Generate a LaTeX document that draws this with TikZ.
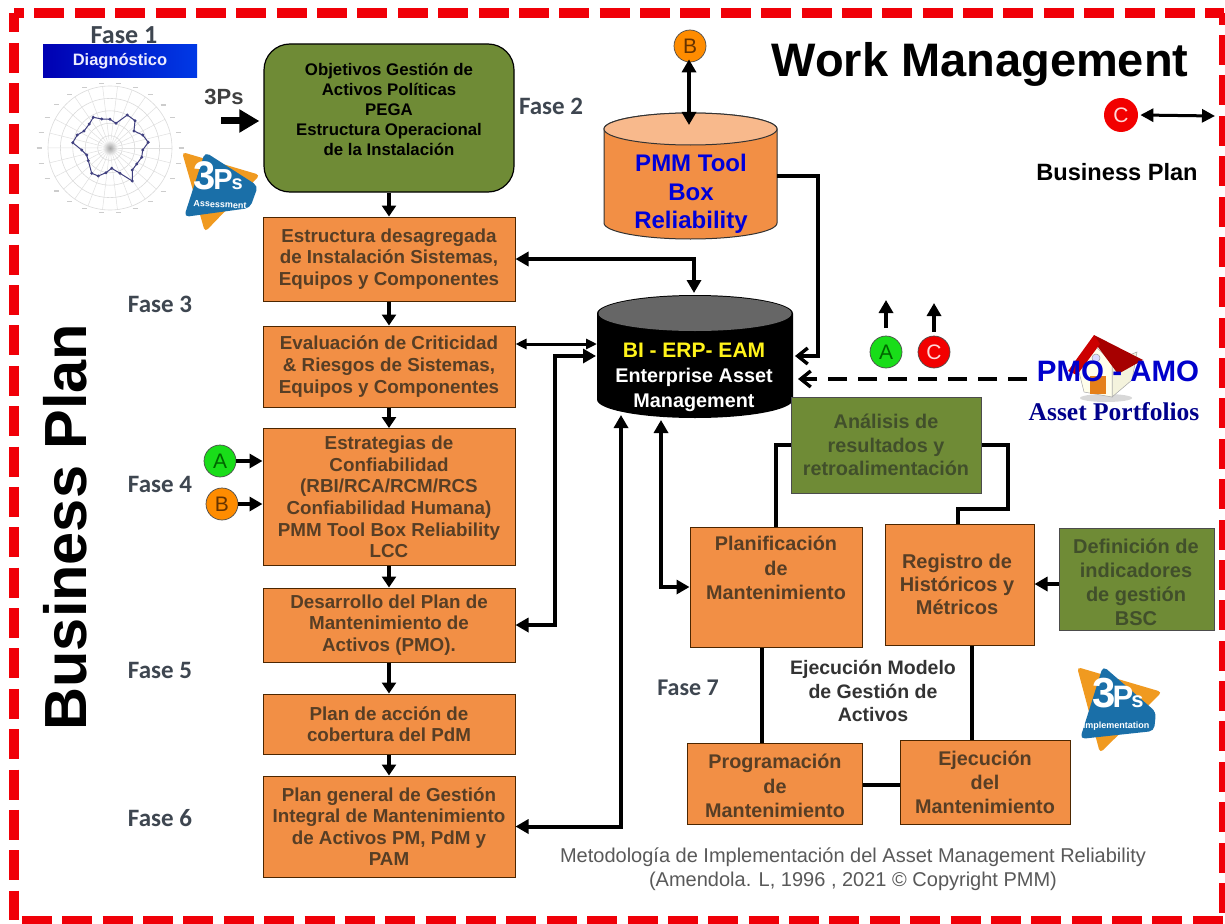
\documentclass[tikz,border=0pt]{standalone}
\usepackage{fontspec}
\setmainfont{Liberation Sans}
\newfontfamily\serifb{Liberation Serif}
\newfontfamily\calib{Carlito}
\usetikzlibrary{arrows.meta,calc,shadings}
\definecolor{orangebox}{HTML}{F28F45}
\definecolor{orangetop}{HTML}{F8B98C}
\definecolor{greenbox}{HTML}{6F8B36}
\definecolor{txtbrown}{HTML}{573E25}
\definecolor{txtgreen}{HTML}{414F2B}
\definecolor{redb}{HTML}{F00008}
\definecolor{slate}{HTML}{3E4650}
\definecolor{logoblue}{HTML}{1A6FA8}
\definecolor{logoorange}{HTML}{F09A20}
\tikzset{
 x=1pt,y=-1pt,
 obox/.style={draw=black!70!orange,line width=1pt,fill=orangebox,text=txtbrown,align=center,inner sep=0pt,font=\fontsize{18.8}{21.6}\selectfont\bfseries},
 otext/.style={text=txtbrown,align=center,inner sep=0pt,font=\fontsize{19.8}{24.2}\selectfont\bfseries},
 gbox/.style={draw=black!70,line width=1pt,fill=greenbox,text=txtgreen,align=center,inner sep=0pt,font=\fontsize{19.8}{24}\selectfont\bfseries},
 fase/.style={text=slate,inner sep=0pt,font=\fontsize{25}{27}\calib\bfseries},
 lab/.style={circle,draw=black!70,line width=.7pt,minimum size=32pt,inner sep=0pt,font=\fontsize{21}{22}\selectfont},
 redframe/.style={redb,line width=10pt},
 arr/.style={line width=4pt,-{Triangle[length=13pt,width=14pt]}},
 arrb/.style={line width=4pt,{Triangle[length=13pt,width=14pt]}-{Triangle[length=13pt,width=14pt]}},
 arrs/.style={line width=3pt,{Triangle[length=11pt,width=10pt]}-{Triangle[length=11pt,width=10pt]}},
 arrbarb/.style={line width=3.6pt,-{Straight Barb[length=10pt,width=16pt,line width=3.4pt]}},
 wire/.style={line width=4.5pt},
}
\begin{document}
\begin{tikzpicture}
\useasboundingbox (0,0) rectangle (1225,923);
\fill[white] (0,0) rectangle (1225,923);
% dashed frame
\draw[redframe,dash pattern=on 30pt off 10.375pt,dash phase=20pt] (14,13) -- (1224,13);
\draw[redframe,dash pattern=on 30pt off 10.375pt,dash phase=10.6pt] (14.3,13) -- (14.3,920);
\draw[redframe,dash pattern=on 30pt off 10.375pt,dash phase=18.3pt] (1224,13) -- (1224,921);
\draw[redframe,dash pattern=on 30pt off 10.375pt,dash phase=32.4pt] (14,921) -- (1225,921);
% phase 1
\node[text=slate,inner sep=0pt,font=\fontsize{26}{28}\calib\bfseries] (f1) at (124,35) {Fase 1};
\node[minimum width=154pt,minimum height=33pt,inner sep=0pt,left color=blue!70!black,right color=blue!75!cyan!90!black,text=white!92!blue] (diag) at (120,61.5)
 {\fontsize{16.5}{18}\selectfont\bfseries Diagnóstico};
% radar
\coordinate (rc) at (110,148);
\foreach \r in {12.4,24.8,37.2,49.6,62} \draw[black!14,line width=.6pt] (rc) circle[radius=\r];
\foreach \a in {0,13.85,...,359} {
  \draw[black!12,line width=.5pt] (rc) -- ++(\a:62);
  \draw[black!20,line width=1.2pt] ($(rc)+({71*cos(\a)},{65*sin(\a)})+(-2.5,0)$) -- ++(5,0);
}
\shade[inner color=black!45,outer color=white,opacity=.7] (rc) circle[radius=8];
\draw[black!50!blue!50!gray,line width=1pt] plot[mark=*,mark size=.9pt,mark options={fill=black!60}] coordinates {
(93.3,117.3)(101.7,119)(110,119.3)(116,123.3)(127.3,115)(135,120.7)(134,131)(142.7,135)(148.3,142.3)(142.7,150)(141.7,157.3)(136.7,164)(132.3,170)(132.3,181)(120,173.3)(111.7,168.3)(106,172.7)(98.3,176)(91.7,173.3)(88.3,160.7)(86.7,155)(81.7,150)(72.7,142.7)(77.3,135)(84,131)(89.3,124)} -- cycle;
% logo 1
\fill[logoorange,rounded corners=4pt] (182,152) -- (260,175) -- (205,232) -- cycle;
\fill[logoblue,rounded corners=5pt] (205,152) -- (258,186) -- (250,208) -- (184,217) -- cycle;
\node[text=white,inner sep=0pt,font=\fontsize{40}{40}\selectfont\bfseries] (lg1a) at (218,176) {3\kern-2pt\fontsize{29}{29}\selectfont P\kern-1pt\fontsize{20}{20}\selectfont s};
\node[text=white,inner sep=0pt,rotate=-3,font=\fontsize{9}{10}\selectfont\bfseries] (lg1b) at (220,204.5) {Assessment};
% 3Ps
\node[text=black!75,inner sep=0pt,font=\fontsize{22}{24}\selectfont\bfseries] (tp) at (224,97) {3Ps};
\coordinate (tpa) at (221,121);
% Green main
\node[draw=black,line width=1.2pt,fill=greenbox,rounded corners=26pt,minimum width=250pt,minimum height=148pt,inner sep=0pt] (obj) at (389,118) {};
\node[text=black,align=center,inner sep=0pt,font=\fontsize{16.8}{20.2}\selectfont\bfseries] (objt) at (389,109.5) {Objetivos Gestión de\\Activos Políticas\\PEGA\\Estructura Operacional\\de la Instalación};
\draw[line width=7pt,shorten >=4pt,-{Triangle[length=20pt,width=22pt]}] (tpa) -- (tpa -| obj.west);
% left column
\node[obox,minimum width=252pt,minimum height=84pt] (b1) at (389,259) {Estructura desagregada\\de Instalación Sistemas,\\Equipos y Componentes};
\node[obox,minimum width=252pt,minimum height=81pt] (b2) at (389,366.5) {Evaluación de Criticidad\\\& Riesgos de Sistemas,\\Equipos y Componentes};
\node[obox,minimum width=252pt,minimum height=137pt] (b3) at (389,497) {Estrategias de\\Confiabilidad\\(RBI/RCA/RCM/RCS\\Confiabilidad Humana)\\PMM Tool Box Reliability\\LCC};
\node[obox,minimum width=252pt,minimum height=74pt] (b4) at (389,625) {Desarrollo del Plan de\\Mantenimiento de\\Activos (PMO).};
\node[obox,minimum width=252pt,minimum height=60pt] (b5) at (389,724) {Plan de acción de\\cobertura del PdM};
\node[obox,minimum width=252pt,minimum height=101pt] (b6) at (389,826.5) {Plan general de Gestión\\Integral de Mantenimiento\\de Activos PM, PdM y\\PAM};
\foreach \p/\q in {obj/b1,b1/b2,b2/b3,b3/b4,b4/b5,b5/b6}
  \draw[line width=3.8pt,-{Triangle[length=11pt,width=14pt]}] (\p.south) -- (\q.north);
% fase labels
\node[fase] (f2) at (551,106) {Fase 2};
\node[fase] (f3) at (160,304) {Fase 3};
\node[fase] (f4) at (160,484) {Fase 4};
\node[fase] (f5) at (160,670) {Fase 5};
\node[fase] (f6) at (160,818) {Fase 6};
\node[fase,font=\fontsize{24}{26}\calib\bfseries] (f7) at (688,688) {Fase 7};
% A, B left
\node[lab,fill=green!85!black!90,text=green!40!black] (al) at (220,461) {A};
\node[lab,fill=orange!90!yellow,text=orange!40!black] (bl) at (222,504) {B};
\draw[arr] (al) -- (al -| b3.west);
\draw[arr] (bl) -- (bl -| b3.west);
% titles
\node[rotate=90,text=black,inner sep=0pt,font=\fontsize{59.5}{60}\selectfont\bfseries] (bp) at (65,527) {Business Plan};
\node[text=black,inner sep=0pt,font=\fontsize{47}{50}\selectfont\bfseries] (wm) at (980,64) {Work Management};
\node[text=black,inner sep=0pt,font=\fontsize{23.6}{25}\selectfont\bfseries] (bp2) at (1117,172) {Business Plan};
% PMM cylinder
\fill[orangebox,draw=black!80,line width=1pt] (604,129) -- (604,223) arc[start angle=180,end angle=0,x radius=86.5,y radius=16] -- (777,129) arc[start angle=0,end angle=-180,x radius=86.5,y radius=16] -- cycle;
\fill[orangetop,draw=black!80,line width=1pt] (690.5,129) ellipse[x radius=86.5,y radius=16];
\node[text=blue!85!black,align=center,inner sep=0pt,font=\fontsize{24}{28.5}\selectfont\bfseries] (pmm) at (691,194) {PMM Tool\\Box\\Reliability};
\coordinate (pmmtop) at (689,125);
\coordinate (pmmr) at (777,176);
\node[lab,fill=orange!90!yellow,text=orange!40!black] (bt) at (690,46) {B};
\draw[arrb] ([xshift=-1pt,yshift=3pt]bt.south) -- (pmmtop);
% EAM cylinder
\fill[black] (597,313.5) -- (597,399.5) arc[start angle=180,end angle=0,x radius=98,y radius=18.5] -- (793,313.5) arc[start angle=0,end angle=-180,x radius=98,y radius=18.5] -- cycle;
\fill[black!60] (695,313.5) ellipse[x radius=96.5,y radius=17.5];
\node[inner sep=0pt,align=center,text=white,font=\fontsize{19.8}{25}\selectfont\bfseries] (eam) at (694,377) {\textcolor{yellow!90!white}{\fontsize{21}{25}\selectfont BI - ERP- EAM}\\Enterprise Asset\\Management};
\coordinate (eamt) at (694,293);
\coordinate (eaml1) at (597,344);
\coordinate (eaml2) at (596,356);
\coordinate (eamr) at (795,356);
\coordinate (eamd) at (798,379);
\coordinate (eamb1) at (621,415);
\coordinate (eamb2) at (661,420);
% EAM connectors
\draw[arrb] (b1.east) -| (eamt);
\draw[arrs] (b2.east |- eaml1) -- (eaml1);
\draw[arrb] (b4.east) -- (555,0 |- b4.east) |- (eaml2);
\draw[arrb] (b6.east) -| (eamb1);
\draw[arrbarb] (pmmr) -- (818,0 |- pmmr) |- (eamr);
% Green analysis
\node[gbox,minimum width=190pt,minimum height=96pt,font=\fontsize{19.8}{23.5}\selectfont\bfseries] (an) at (886,445) {Análisis de\\resultados y\\retroalimentación};
% Right flow boxes
\node[obox,minimum width=172pt,minimum height=120pt] (pl) at (776,587) {};
\node[otext] (plt) at (776,568) {Planificación\\de\\Mantenimiento};
\node[obox,minimum width=149pt,minimum height=121pt] (re) at (959.5,584.5) {};
\node[otext,font=\fontsize{20}{23}\selectfont\bfseries] (ret) at (957,584) {Registro de\\Históricos y\\Métricos};
\node[gbox,minimum width=155pt,minimum height=102pt,font=\fontsize{20}{24}\selectfont\bfseries] (de) at (1136.5,579) {};
\node[text=txtgreen,align=center,inner sep=0pt,font=\fontsize{20}{24}\selectfont\bfseries] (det) at (1136,582) {Definición de\\indicadores\\de gestión\\BSC};
\node[obox,minimum width=175pt,minimum height=81pt] (pr) at (774.5,783.5) {};
\node[otext] (prt) at (775,786) {Programación\\de\\Mantenimiento};
\node[obox,minimum width=170pt,minimum height=84pt] (ej) at (985,782) {};
\node[otext] (ejt) at (985,782.5) {Ejecución\\del\\Mantenimiento};
\draw[arrb] (eamb2) -- (eamb2 |- pl.west) -- (pl.west);
\draw[wire] (762,0 |- pl.south) -- (762,0 |- pr.north);
\draw[wire] (972,0 |- re.south) -- (972,0 |- ej.north);
\draw[wire] (pr.east |- 0,785) -- (ej.west |- 0,785);
\draw[arr] (de.west |- 0,584) -- (re.east |- 0,584);
\draw[wire] (an.west) -| (pl.north);
\draw[wire] (an.east) -- (1008,0 |- an.east) -- (1008,509) -| (958,0 |- re.north);
% Execution text
\node[text=black!80,inner sep=0pt,align=center,font=\fontsize{19.5}{23.5}\selectfont\bfseries] (ex) at (873,691) {Ejecución Modelo\\de Gestión de\\Activos};
% A, C, arrows
\node[lab,fill=green!85!black!90,text=green!40!black] (a2) at (886,352) {A};
\node[lab,fill=red!95!black,text=white!85!red] (c2) at (934,352) {C};
\draw[arr] (886,328) -- (886,300);
\draw[arr] (934,332) -- (934,303);
\node[lab,fill=red!95!black,text=white!85!red,draw=none,minimum size=34pt] (c1) at (1121,115) {C};
\coordinate (c1e) at (1215,116);
\draw[line width=3pt,{Triangle[length=13pt,width=13pt]}-{Triangle[length=13pt,width=13pt]}] ([xshift=2pt]c1.east) -- (c1e);
% logo 2
\fill[logoorange,rounded corners=4pt] (1077,667) -- (1162,692) -- (1100,753) -- cycle;
\fill[logoblue,rounded corners=5pt] (1103,666) -- (1156,712) -- (1154,731) -- (1080,739) -- cycle;
\node[text=white,inner sep=0pt,font=\fontsize{42}{42}\selectfont\bfseries] (lg2a) at (1118,693) {3\kern-3pt\fontsize{31}{31}\selectfont P\kern-2pt\fontsize{22}{22}\selectfont s};
\node[text=white,inner sep=0pt,font=\fontsize{9}{10}\selectfont\bfseries] (lg2b) at (1116,726) {Implementation};
% house
\fill[black!25,opacity=.6] (1106,398) ellipse[x radius=26,y radius=4];
\fill[white!90!yellow!95!black,draw=black!35,line width=.5pt] (1112,362) -- (1137,352) -- (1132,380) -- (1112,397) -- cycle;
\fill[white!92!yellow,draw=black!35,line width=.5pt] (1078,368) -- (1094,345) -- (1112,362) -- (1112,397) -- (1084,392) -- cycle;
\fill[red!65!black] (1094,335) -- (1143,360) -- (1118,374) -- (1098,347) -- cycle;
\fill[red!80!black] (1068,371) -- (1094,335) -- (1100,344) -- (1077,375) -- cycle;
\fill[orange!60!brown] (1090,376) rectangle (1106,394);
\fill[blue!15,draw=black!40,line width=.5pt] (1096,358) circle[radius=4];
% dashed connector + PMO
\node[text=blue!80!black,inner sep=0pt,font=\fontsize{29.5}{31}\selectfont\bfseries] (pmo) at (1118,371) {PMO - AMO};
\node[text=blue!55!black,inner sep=0pt,font=\fontsize{25.5}{27}\serifb\bfseries] (ap) at (1114,412) {Asset Portfolios};
\coordinate (dstart) at (1027,379);
\draw[line width=3.6pt,dash pattern=on 19pt off 11pt,-{Straight Barb[length=10pt,width=16pt,line width=3.4pt]}] (dstart) -- (eamd);
% footer
\node[text=black!65,align=center,inner sep=0pt,font=\fontsize{20}{24.5}\selectfont] (foot) at (853,869) {Metodología de Implementación del Asset Management Reliability\\(Amendola. L, 1996 , 2021 © Copyright PMM)};
\end{tikzpicture}
\end{document}
